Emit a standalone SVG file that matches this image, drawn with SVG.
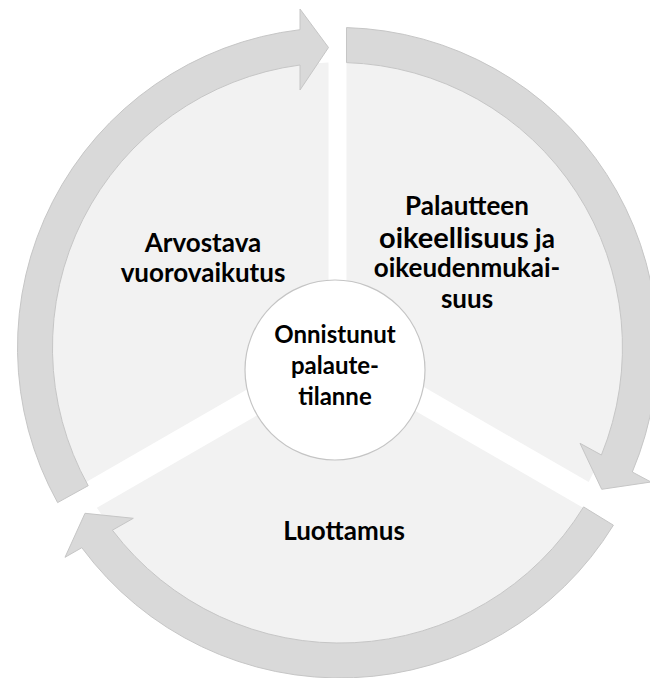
<svg xmlns="http://www.w3.org/2000/svg" width="650" height="678" viewBox="0 0 650 678">
  <style>
    .sector { fill: #f2f2f2; stroke: none; }
    .arrow { fill: #d9d9d9; stroke: #c6c6c6; stroke-width: 1; stroke-linejoin: miter; }
    .hub { fill: #ffffff; stroke: #c4c4c4; stroke-width: 1.2; }
    .label { font-family: Lato, "Open Sans", "Liberation Sans", sans-serif; font-weight: 700; fill: #000000; text-anchor: middle; }
  </style>
  <rect width="650" height="678" fill="#ffffff"/>

  <!-- pie segments, separated by white gaps -->
  <g id="segment-right">
    <path class="sector" d="M 346.5 342.3 L 346.5 62.6 A 285 285 0 0 1 588.7 482.1 Z"/>
    <text class="label" x="467" y="215" font-size="26">Palautteen</text>
    <text class="label" x="467" y="248" font-size="26"><tspan font-size="29">oikeellisuus</tspan> ja</text>
    <text class="label" x="467" y="277" font-size="26">oikeudenmukai-</text>
    <text class="label" x="467" y="308" font-size="26">suus</text>
  </g>
  <g id="segment-bottom">
    <path class="sector" d="M 340 367.4 L 583.1 507.7 A 286 286 0 0 1 96.9 507.7 Z"/>
    <text class="label" x="344" y="540" font-size="26">Luottamus</text>
  </g>
  <g id="segment-left">
    <path class="sector" d="M 328.5 342.3 L 86.3 482.1 A 285 285 0 0 1 328.5 62.6 Z"/>
    <text class="label" x="203" y="252" font-size="26">Arvostava</text>
    <text class="label" x="203" y="282" font-size="26">vuorovaikutus</text>
  </g>

  <!-- circular arrows around the pie -->
  <g id="connectors">
    <path id="arrow-left" class="arrow" d="M 57.6 502.6 A 320 320 0 0 1 300 29.7 L 300 9 L 328.5 47.5 L 300 90 L 300 65 A 285 285 0 0 0 88.2 485.7 Z"/>
    <path id="arrow-right" class="arrow" d="M 346.5 27.6 A 320 320 0 0 1 632.3 472 L 651 482 L 601.7 489.3 L 580 443.3 L 601.4 455 A 285 285 0 0 0 346.5 62.6 Z"/>
    <path id="arrow-bottom" class="arrow" d="M 613.4 525.2 A 321 321 0 0 1 81.8 547.7 L 65 557.3 L 85 513.3 L 133.3 518.3 L 112.4 530.2 A 286 286 0 0 0 583.6 506.9 Z"/>
  </g>

  <!-- central hub -->
  <g id="hub">
    <circle class="hub" cx="335" cy="370" r="90"/>
    <text class="label" x="335" y="343" font-size="24">Onnistunut</text>
    <text class="label" x="335" y="374" font-size="24">palaute-</text>
    <text class="label" x="335" y="405" font-size="24">tilanne</text>
  </g>
</svg>
